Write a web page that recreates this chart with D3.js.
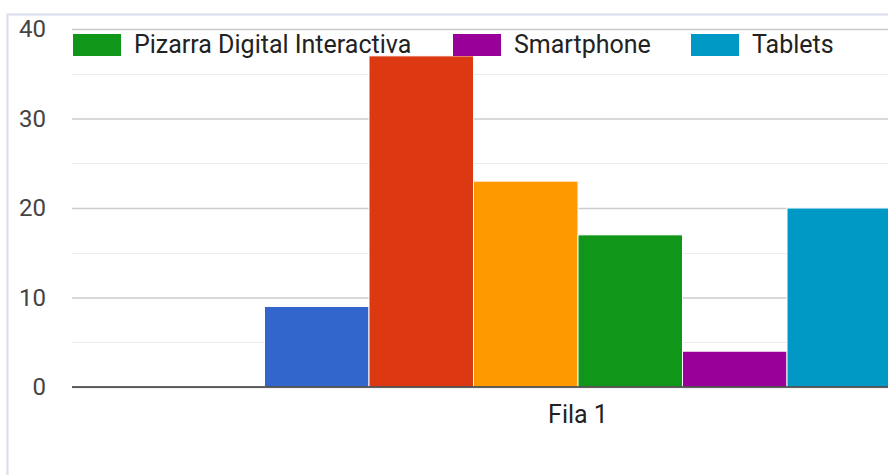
<!DOCTYPE html>
<html>
<head>
<meta charset="utf-8">
<script src="https://cdn.jsdelivr.net/npm/d3@7/dist/d3.min.js"></script>
<style>
  html, body { margin: 0; padding: 0; background: #fff; }
  svg { display: block; font-family: Roboto, "Noto Sans", sans-serif; }
</style>
</head>
<body>
<svg id="chart" width="888" height="475"></svg>
<script>
// Survey counts per device, one category ("Fila 1") with six series
const categories = ["Fila 1"];
const seriesNames = ["Ordenador", "Proyector", "Portátil", "Pizarra Digital Interactiva", "Smartphone", "Tablets"];
const seriesValues = [9, 37, 23, 17, 4, 20];
const seriesColors = ["#3366cc", "#dc3912", "#ff9900", "#109618", "#990099", "#0099c6"];
const yTicks = [0, 10, 20, 30, 40];
const yMinorTicks = [5, 15, 25, 35];
// Legend is paged: this page shows the last three series
const legendSeries = [3, 4, 5];

const svg = d3.select("#chart");
const W = 888, H = 475;

// plot area (extends past the right edge of the visible canvas)
const plot = { left: 72, right: 1084, top: 29, bottom: 387 };

// outer frame
svg.append("path")
  .attr("d", `M7.5,${H} V14.5 H${W}`)
  .attr("fill", "none")
  .attr("stroke", "#d9dcea")
  .attr("stroke-width", 2);

const y = d3.scaleLinear().domain([0, 40]).range([plot.bottom, plot.top]);
const x0 = d3.scaleBand().domain(categories).range([plot.left, plot.right])
  .paddingInner(0).paddingOuter(0.307);
const x1 = d3.scaleBand().domain(d3.range(seriesValues.length))
  .range([0, x0.bandwidth()]).padding(0);

// minor gridlines
svg.append("g").selectAll("line").data(yMinorTicks).join("line")
  .attr("x1", plot.left).attr("x2", W)
  .attr("y1", d => Math.round(y(d)) + 0.5).attr("y2", d => Math.round(y(d)) + 0.5)
  .attr("stroke", "#ebebeb").attr("stroke-width", 1);

// major gridlines + labels via axis
const yAxis = d3.axisLeft(y).tickValues(yTicks).tickSize(-(W - plot.left)).tickPadding(26);
const gy = svg.append("g").attr("transform", `translate(${plot.left},0)`).call(yAxis);
gy.select(".domain").remove();
gy.selectAll(".tick line").attr("stroke", "#cccccc").attr("stroke-width", 1.3);
gy.selectAll(".tick text")
  .attr("fill", "#444").attr("font-size", 24).attr("font-family", "Roboto, sans-serif");

// bars
const g = svg.append("g");
g.selectAll("rect").data(seriesValues).join("rect")
  .attr("x", (d, i) => x0(categories[0]) + x1(i))
  .attr("width", x1.bandwidth())
  .attr("y", d => y(d))
  .attr("height", d => y(0) - y(d))
  .attr("fill", (d, i) => seriesColors[i])
  .attr("stroke", "#fff").attr("stroke-width", 1);

// baseline
svg.append("line")
  .attr("x1", plot.left).attr("x2", W)
  .attr("y1", y(0)).attr("y2", y(0))
  .attr("stroke", "#333").attr("stroke-width", 1.6);

// category axis label
const xAxis = d3.axisBottom(x0).tickSize(0).tickPadding(18);
const gx = svg.append("g").attr("transform", `translate(0,${y(0)})`).call(xAxis);
gx.select(".domain").remove();
gx.selectAll(".tick text")
  .attr("fill", "#222").attr("font-size", 25).attr("font-family", "Roboto, sans-serif");

// legend
const legendX = [73, 453, 691];
const leg = svg.append("g");
legendSeries.forEach((s, k) => {
  const lg = leg.append("g").attr("transform", `translate(${legendX[k]},34)`);
  lg.append("rect").attr("width", 48).attr("height", 22).attr("fill", seriesColors[s]);
  lg.append("text").attr("x", 61).attr("y", 19)
    .attr("font-size", 25).attr("fill", "#222")
    .text(seriesNames[s]);
});
</script>
</body>
</html>
